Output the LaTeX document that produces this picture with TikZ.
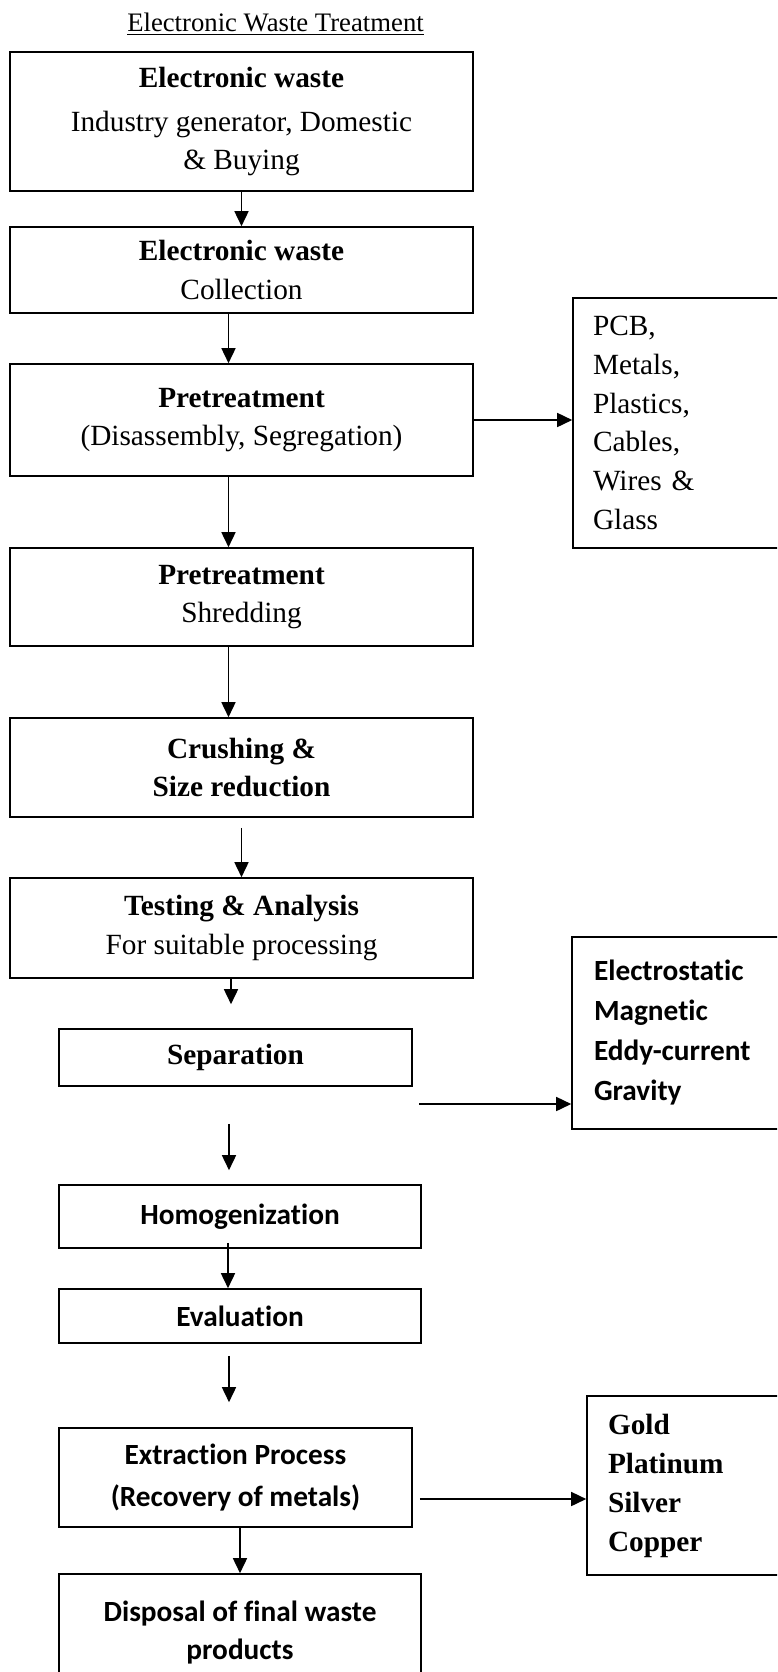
\documentclass[tikz,border=0pt]{standalone}
\usepackage{fontspec}
\setmainfont{Liberation Serif}
\newfontfamily\calibri[Ligatures={NoCommon}]{Carlito}
\usetikzlibrary{arrows.meta}
\tikzset {>={Triangle[length=15pt,width=14pt]}}

\begin{document}
\begin{tikzpicture}[x=1pt,y=-1pt,line width=1.6pt,
  flowbox/.style={draw,align=center,inner sep=0pt,
    font=\fontsize{29.3pt}{38.6pt}\selectfont},
  cbox/.style={flowbox,
    font=\calibri\bfseries\fontsize{29.3pt}{40pt}\selectfont},
  sidebox/.style={draw,align=left,inner ysep=0pt,text width=180pt,
    font=\fontsize{29.3pt}{38.8pt}\selectfont}]
\clip[use as bounding box] (0,0) rectangle (777,1672);
\node[font=\fontsize{26.7pt}{32pt}\selectfont,anchor=base] (title)
  at (275.5,32) {\underline{Electronic Waste Treatment}};
\node[flowbox,minimum width=463pt,minimum height=139pt] (ewgen)
  at (241.5,121.5) {\textbf{Electronic waste}\\[5pt]
  Industry generator, Domestic\\ \& Buying};
\node[flowbox,minimum width=463pt,minimum height=86pt] (ewcol)
  at (241.5,270) {\textbf{Electronic waste}\\ Collection};
\node[flowbox,minimum width=463pt,minimum height=112pt] (predis)
  at (241.5,420) {\textbf{Pretreatment}\\ (Disassembly, Segregation)};
\node[flowbox,minimum width=463pt,minimum height=98pt] (preshr)
  at (241.5,597) {\textbf{Pretreatment}\\ Shredding};
\node[flowbox,minimum width=463pt,minimum height=99pt] (crush)
  at (241.5,767.5) {\textbf{Crushing \&}\\ \textbf{Size reduction}};
\node[flowbox,minimum width=463pt,minimum height=100pt] (test)
  at (241.5,928) {\textbf{Testing \& Analysis}\\ For suitable processing};
\node[flowbox,minimum width=353pt,minimum height=57pt] (sep)
  at (235.5,1057.5) {\textbf{Separation}};
\node[cbox,minimum width=362pt,minimum height=63pt] (homog)
  at (240,1216.5) {Homogenization};
\node[cbox,minimum width=362pt,minimum height=54pt] (evalu)
  at (240,1316) {Evaluation};
\node[cbox,minimum width=353pt,minimum height=99pt] (extr)
  at (235.5,1477.5) {Extraction Process\\[2pt] (Recovery of metals)};
\node[cbox,minimum width=362pt,minimum height=118pt] (disp)
  at (240,1633) {Disposal of final waste\\[-2pt] products};
\node[sidebox,inner xsep=20pt,minimum height=250pt] (parts)
  at (683,423) {PCB,\\ Metals,\\ Plastics,\\ Cables,\\ Wires \&\\ Glass};
\node[sidebox,font=\calibri\bfseries\fontsize{29.3pt}{40pt}\selectfont,
  inner xsep=22pt,minimum height=192pt] (methods)
  at (684,1033) {Electrostatic\\ Magnetic\\ Eddy-current\\ Gravity};
\node[sidebox,font=\bfseries\fontsize{29.3pt}{39pt}\selectfont,
  inner xsep=21pt,minimum height=179pt] (metals)
  at (698,1485.5) {Gold\\ Platinum\\ Silver\\ Copper};
\draw[->] (ewgen) -- (ewcol);
\draw[->] ([xshift=-13pt]ewcol.south) -- ([xshift=-13pt]predis.north);
\draw[->] ([xshift=-13pt]predis.south) -- ([xshift=-13pt]preshr.north);
\draw[->] ([xshift=-13pt]preshr.south) -- ([xshift=-13pt]crush.north);
\draw[->,shorten <=10pt] (crush.south) -- (test.north);
\draw[->,shorten >=24pt] ([xshift=-10.5pt]test.south)
  -- ([xshift=-4.5pt]sep.north);
\draw[->,shorten <=37pt,shorten >=14pt] ([xshift=-6.5pt]sep.south)
  -- ([xshift=-11pt]homog.north);
\draw[->,shorten <=-6pt] ([xshift=-12pt]homog.south)
  -- ([xshift=-12pt]evalu.north);
\draw[->,shorten <=12pt,shorten >=25pt] ([xshift=-11pt]evalu.south)
  -- ([xshift=-6.5pt]extr.north);
\draw[->] ([xshift=4.5pt]extr.south) -- (disp.north);
\draw[->] (predis.east) -- (predis.east -| parts.west);
\coordinate (sepout) at (419,1104);
\draw[->] (sepout) -- (sepout -| methods.west);
\coordinate (extrout) at ([yshift=-21.5pt]extr.east);
\draw[->,shorten <=7pt] (extrout) -- (extrout -| metals.west);
\end{tikzpicture}
\end{document}
